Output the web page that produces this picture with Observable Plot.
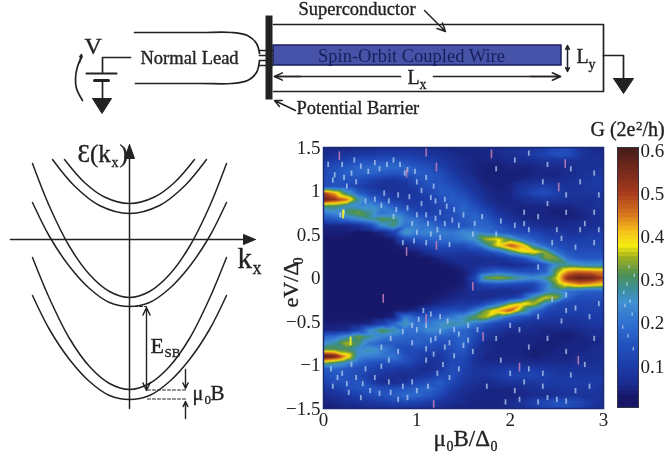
<!DOCTYPE html>
<html><head><meta charset="utf-8">
<script src="https://cdn.jsdelivr.net/npm/d3@7"></script>
<script src="https://cdn.jsdelivr.net/npm/@observablehq/plot@0.6"></script>
<style>
html,body{margin:0;padding:0;background:#fff}
#c{position:relative;width:670px;height:459px;overflow:hidden;filter:blur(0.55px)}
#c>svg{position:absolute;background:transparent}
</style></head><body><div id="c"></div>
<script>
// Conductance map: B axis, eV axis, G in units of 0.01 (2e^2/h)
const fieldB=[0,.125,.25,.375,.5,.625,.75,.875,1,1.125,1.25,1.375,1.5,1.625,1.75,1.875,2,2.125,2.25,2.375,2.5,2.625,2.75,2.875,3];
const biasV=[1.5,1.425,1.35,1.275,1.2,1.125,1.05,.975,.9,.825,.75,.675,.6,.525,.45,.375,.3,.225,.15,.075,0,-.075,-.15,-.225,-.3,-.375,-.45,-.525,-.6,-.675,-.75,-.825,-.9,-.975,-1.05,-1.125,-1.2,-1.275,-1.35,-1.425,-1.5];
const conductance=[
[5,5,5,6,6,7,7,7,7,6,6,5,5,5,6,6,7,7,8,10,13,13,8,6,5],
[6,7,8,9,9,10,10,10,9,8,7,6,5,5,5,6,7,8,10,12,15,14,9,7,6],
[8,10,12,14,14,15,15,14,12,11,9,7,6,5,5,5,6,6,7,8,8,8,7,7,7],
[12,14,16,18,19,19,19,18,16,14,11,8,6,5,4,4,5,5,5,6,6,6,7,7,8],
[13,15,17,18,18,16,15,16,17,16,14,10,7,5,4,4,4,4,5,5,5,6,7,8,9],
[13,15,15,14,11,9,8,10,14,16,15,12,8,6,4,4,4,5,6,6,6,7,8,9,10],
[14,15,14,11,9,7,7,8,11,15,16,14,10,7,5,4,5,8,10,11,9,8,8,9,10],
[50,42,28,17,12,10,8,8,9,12,16,16,13,9,6,5,5,9,13,14,11,8,8,8,9],
[58,52,46,28,19,14,10,9,9,10,14,17,16,11,7,5,5,6,8,9,8,7,7,7,8],
[30,30,26,24,25,22,17,12,10,10,12,15,18,14,9,6,5,5,5,5,5,5,6,7,8],
[22,24,30,33,28,20,22,18,13,11,12,14,18,17,13,8,6,5,5,5,4,4,5,6,7],
[14,16,20,24,28,32,30,22,20,15,13,13,16,18,16,11,8,6,5,5,5,5,5,6,7],
[5,5,5,7,12,24,30,20,22,20,17,15,15,18,18,15,11,9,7,6,6,6,7,7,8],
[4,4,4,3,3,5,11,27,22,24,22,21,24,24,20,17,15,13,12,10,9,8,8,9,10],
[3,3,3,3,3,3,4,14,16,18,19,20,22,26,36,38,30,20,16,13,11,10,10,11,11],
[3,3,3,3,3,3,3,5,9,13,15,14,14,18,28,39,48,42,26,18,14,12,12,12,12],
[3,3,3,3,3,3,3,3,4,7,10,10,9,10,13,18,28,37,40,34,20,15,14,14,14],
[3,3,3,3,3,3,3,3,3,3,5,7,7,6,7,8,10,14,22,33,33,19,16,16,16],
[3,3,3,3,3,3,3,3,3,3,3,4,6,6,7,7,6,7,9,15,26,28,26,25,25],
[3,3,3,3,3,3,3,3,3,3,3,3,4,8,15,18,16,14,14,17,33,44,46,45,44],
[3,3,3,3,3,3,3,3,3,3,3,3,4,13,33,35,32,28,25,28,37,54,58,56,50],
[3,3,3,3,3,3,3,3,3,3,3,3,4,9,13,14,13,12,12,20,33,40,44,42,40],
[3,3,3,3,3,3,3,3,3,3,3,4,5,7,6,6,6,7,12,22,26,20,18,17,17],
[3,3,3,3,3,3,3,3,3,3,4,5,6,6,6,8,9,14,28,37,34,18,14,14,14],
[3,3,3,3,3,3,3,3,3,4,6,8,9,10,15,22,34,40,36,24,14,12,12,12,12],
[3,3,3,3,3,3,3,4,6,10,13,14,14,22,34,42,48,32,20,13,11,11,11,11,11],
[3,3,3,3,3,3,5,22,17,17,18,22,26,32,36,26,18,14,11,10,9,9,9,10,10],
[4,4,4,4,5,10,18,28,20,21,25,28,26,21,16,12,10,8,7,7,7,7,8,9,9],
[5,5,6,12,24,32,28,20,20,24,24,20,18,15,10,8,6,6,6,5,5,5,6,7,7],
[18,20,26,33,28,23,20,18,18,18,17,16,18,13,8,6,5,5,5,5,4,4,5,6,6],
[24,28,36,30,20,17,16,16,18,16,14,15,18,11,6,5,5,5,5,4,4,5,5,5,6],
[32,32,30,24,27,23,18,13,13,12,11,14,16,8,6,5,5,5,4,4,5,5,5,6,6],
[60,56,42,24,22,21,21,15,12,9,9,13,14,8,5,5,5,5,4,5,5,5,6,6,6],
[34,30,24,18,15,14,15,14,10,7,8,13,12,7,6,6,6,6,6,6,6,6,7,7,7],
[16,17,15,14,12,10,9,8,7,6,9,14,11,8,8,9,10,10,10,9,8,8,8,8,8],
[14,16,15,13,9,8,7,6,7,9,13,15,10,8,8,10,12,12,12,11,9,9,9,9,9],
[11,14,15,15,11,7,6,8,12,15,17,13,9,7,6,7,8,8,9,10,10,10,10,10,9],
[8,10,13,15,16,14,14,16,18,19,15,10,7,6,5,5,5,6,7,8,8,9,9,9,8],
[6,7,9,11,13,15,17,19,19,16,12,8,6,5,5,5,5,5,6,6,7,8,8,8,7],
[5,6,7,8,9,10,12,13,12,10,8,7,6,5,5,5,6,8,10,13,15,14,12,9,7],
[4,4,5,5,6,6,7,7,7,6,6,5,5,5,5,5,6,7,9,12,14,14,11,8,6]];
// noise specks seen on the map
const whiteSpecks=[[.22,1.15],[.3,1.2],[.35,1.1],[.1,1.12],[.12,1.18],[.25,1.05],[.4,1.28],[.55,1.32],[.75,1.35],[.82,1.3],[.9,1.24],[.87,1.2],[1,1.1],[1.05,1],[1.15,.92],[1.2,.88],[1.3,.9],[1.32,.82],[1.25,.75],[1.4,.78],[1.05,.85],[.9,.8],[.78,.78],[.8,.95],[.65,.97],[.55,.9],[.45,.88],[1.1,.72],[1.2,.68],[.95,.62],[1,.52],[1.15,.5],[1.25,.46],[.85,.4],[.62,.83],[.18,.72],[.22,.75],[.3,-1],[.2,-1.1],[.35,-1.15],[.1,-1.25],[.15,-1.15],[.45,-1.05],[.55,-1.15],[.5,-1.3],[.7,-1.2],[.6,-1.33],[.85,-1.25],[.9,-1.38],[1,-1.3],[1.1,-.95],[1,-.6],[1.1,-.55],[1.15,-.42],[1.07,-.38],[1.2,-.7],[1.25,-.62],[1.3,-.8],[1.35,-.75],[1.45,-.65],[1.4,-.9],[1.28,-1],[1.22,-1.1],[.8,-.85],[.72,-.7],[.62,-.8],[.95,-.75],[1.55,-.55],[1.65,-.6],[2,-1.1],[2.15,-1.2],[2.35,-1.1],[2.5,-1.4],[2.3,-1.43],[2.4,-1.38],[2.6,-1.42],[2.7,-1.3],[2.2,-.8],[2.55,-.5],[2.7,-.35],[2.85,-.45],[2.9,-.7],[2.6,-.2],[2.3,-.45],[2,-.55],[1.85,-.7],[1.6,.5],[2.2,.55],[2.5,.55],[2.7,.35],[2.9,.4],[2.8,.62],[2.45,.4],[2.05,.6],[1.9,.65],[1.7,.7],[2.3,.7],[2.6,.75],[2.9,.75],[2.6,.95],[2.9,1.2],[2.75,1.1],[2.4,1.3],
[.05,1.3],[.2,1.3],[.33,1.35],[.48,1.22],[.6,1.25],[.68,1.3],[.98,1.22],[1.1,1.15],[1.18,1.05],[.7,.88],[.75,.7],[.92,.93],[1,.72],[1.12,.62],[1.3,.62],[1.38,.66],[1.45,.6],[1.5,.72],[1.62,.62],[1.1,.4],[1.35,.38],[.97,.42],[1.22,.55],
[.25,-1.22],[.08,-1.05],[.42,-1.22],[.27,-1.32],[.4,-1.38],[.62,-1.02],[.72,-1.32],[.8,-1.4],[.95,-1.2],[1.12,-1.25],[1.15,-.72],[1.1,-.82],[.95,-.55],[1.02,-.48],[1.25,-.45],[1.33,-.5],[1.4,-.6],[1.5,-.78],[1.55,-.72],[1.6,-.85],[1.45,-1.05],[1.35,-1.15],[1.18,-.88],[.85,-.62],[.7,-.95],
[1.9,-.95],[2.1,-.6],[2.4,-.7],[2.6,-.85],[2.8,-1],[2.95,-.3],[2.45,-.25],[1.75,-1.25],[2.1,-1.4],[2.85,-1.25],[2.2,-1.05],[2.05,-1.3],[1.95,-1.43],[2.65,-1.12],[2.35,-1.25],
[2.15,.75],[2.4,.85],[2.75,.55],[2.95,.55],[2.55,.45],[2.95,.95],[2.35,1.1],[2.65,1.25],[1.85,1.25],[2.05,1.35],[2.2,1.43],[2.3,.12],[2.6,-.38],[1.85,.5],[2.15,.62]];
const pinkSpecks=[[.17,1.4],[.89,1.2],[2.52,1.04],[.89,.3],[1.21,.37],[.64,-.24],[1.6,-.1],[1.1,-.47],[2.1,-1.03],[2.73,-.95],[1.71,-.68],[1.8,1.42],[2.59,1.31],[1.1,1.44],[1.21,1.27],[1.18,-1.46]];
const yellowSpecks=[[.29,-.73],[.21,.73]];
const barSpecks=[[.3,.27],[.6,.25],[.45,.29],[.7,.22],[.25,.19],[.8,.31],[.5,.17],[.75,.14],[.35,.24],[.55,.33]];
// colour scale
const colorStops=[0,.03,.06,.1,.15,.2,.25,.28,.31,.35,.38,.41,.45,.5,.55,.6];
const colorValues=["#17186a","#17186a","#1a2c8e","#1c3ca8","#2352bf","#3070d0","#4090d2","#3d8f9a","#4b9058","#9aad22","#f5ea10","#f6c41a","#d97a1e","#a83c1c","#7a2a1c","#4a1e18"];
const barLevels=d3.range(0,.61,.01);
const xTicks=[0,1,2,3];
const yTicks=[1.5,1,.5,0,-.5,-1,-1.5];
const yTickLabels=["1.5","1","0.5","0","\u22120.5","\u22121","\u22121.5"];
const gTicks=[.1,.2,.3,.4,.5,.6];
// band sketch: E(k)
const bandK=[-97,-80,-60,-40,-20,0,20,40,60,80,97];
const band3a=[76,33,-7,-35,-52,-58,-52,-35,-7,33,76];
const band3b=[37,3,-27,-49,-63,-67,-63,-49,-27,3,37];
const band2a=[-18,-59,-99,-127,-144,-150,-144,-127,-99,-59,-18];
const band2b=[-56,-90,-120,-142,-156,-160,-156,-142,-120,-90,-56];
const band4K=[-65,-45,-25,0,25,45,65];
const band4a=[80,57,42.5,36,42.5,57,80];
const band4outerK=[-77,-55,-30,0,30,55,77];
const band4b=[80,53.5,34,26,34,53.5,80];

const font="'Liberation Serif',serif", ink="#222";
const root=document.getElementById("c");
const place=(svg,left,top)=>{svg.style.left=left+"px";svg.style.top=top+"px";root.appendChild(svg);};
const colorOpt={type:"linear",domain:colorStops,range:colorValues,interpolate:"rgb",clamp:true};
const cells=[];
biasV.forEach((v,i)=>fieldB.forEach((b,j)=>cells.push({b,v,g:conductance[i][j]/100})));
const speck=(list,stroke,op,w,dv)=>Plot.ruleX(list,{x:d=>d[0],y1:d=>d[1]-dv,y2:d=>d[1]+dv,stroke,strokeOpacity:op,strokeWidth:w});
const heavy={stroke:ink,strokeWidth:.35};

// heat map
place(Plot.plot({
  width:610,height:329,marginLeft:323,marginRight:7,marginTop:17,marginBottom:51,
  style:{fontFamily:font,background:"transparent",color:ink},
  x:{domain:[0,3]},y:{domain:[-1.5,1.5]},color:colorOpt,
  marks:[
    Plot.raster(cells,{x:"b",y:"v",fill:"g",interpolate:"barycentric"}),
    speck(whiteSpecks,"#bcd6f2",.7,1.8,.03),
    speck(pinkSpecks,"#c880b8",.85,1.6,.05),
    speck(yellowSpecks,"#f6ea30",.95,2,.05),
    Plot.frame({stroke:"#1a2a70",strokeWidth:1.5}),
    Plot.axisX({ticks:xTicks,tickSize:0,tickPadding:4,fontSize:19,label:null,tickFormat:d=>String(d)}),
    Plot.axisY({ticks:yTicks,tickSize:0,tickPadding:3,fontSize:19,label:null,tickFormat:d=>yTickLabels[yTicks.indexOf(d)]})
  ]}),0,130);

// colour bar
place(Plot.plot({
  width:670-617,height:290,marginLeft:0,marginRight:32,marginTop:17,marginBottom:13,
  style:{fontFamily:font,background:"transparent",color:ink},
  x:{domain:[0,1],axis:null},y:{domain:[.005,.607]},color:colorOpt,
  marks:[
    Plot.rect(barLevels,{x1:0,x2:1,y1:d=>d-.006,y2:d=>d+.006,fill:d=>d,clip:true}),
    speck(barSpecks,"#bcd6f2",.7,1.4,.004),
    Plot.frame({stroke:"#334",strokeWidth:1}),
    Plot.axisY({anchor:"right",ticks:gTicks,tickSize:0,tickPadding:2,fontSize:19,label:null,tickFormat:d=>d.toFixed(1)})
  ]}),617,130);

// band diagram
const curveOpt={curve:"catmull-rom",stroke:ink,strokeWidth:1.5};
const bandLine=(ks,es)=>Plot.line(ks.map((k,i)=>[k,es[i]]),curveOpt);
const bandArrow=(x1,y1,x2,y2,len=9)=>Plot.arrow([0],{x1:()=>x1,y1:()=>y1,x2:()=>x2,y2:()=>y2,bend:0,stroke:ink,strokeWidth:1.4,headLength:len,headAngle:50});
const bandHeads=[[[0,95],[-5,81],[5,81]],[[126,0],[114,5],[114,-5]]];
const bandLabels=[
 {t:"\u0190(k",k:-52,e:78,s:25},{t:"x",k:-18,e:73,s:14},{t:")",k:-10,e:78,s:25},
 {t:"k",k:108,e:-28,s:29},{t:"x",k:123,e:-34,s:18},
 {t:"E",k:21,e:-113,s:22},{t:"SB",k:35,e:-117,s:13},
 {t:"\u03bc",k:63,e:-160,s:20},{t:"0",k:75,e:-164,s:13},{t:"B",k:81,e:-160,s:21}];
place(Plot.plot({
  width:270,height:329,margin:0,
  style:{fontFamily:font,background:"transparent",color:ink},
  x:{domain:[-129,141],axis:null},y:{domain:[-220,109],axis:null},
  marks:[
    bandLine(bandK,band3a),bandLine(bandK,band3b),bandLine(bandK,band2a),bandLine(bandK,band2b),
    bandLine(band4K,band4a),bandLine(band4outerK,band4b),
    Plot.line([[0,-169],[0,90]],{stroke:ink,strokeWidth:1.5}),
    Plot.line([[-119,0],[120,0]],{stroke:ink,strokeWidth:1.5}),
    ...bandHeads.map(t=>Plot.line([...t,t[0]],{fill:ink,stroke:ink,strokeWidth:1})),
    bandArrow(17,-110,17,-68),bandArrow(17,-110,17,-151),
    bandArrow(56,-130,56,-149,8),bandArrow(56,-179,56,-162,8),
    Plot.line([[5,-67],[17,-67]],{stroke:ink,strokeWidth:1,strokeDasharray:"3 2"}),
    Plot.line([[18,-150.5],[56,-150.5]],{stroke:ink,strokeWidth:1,strokeDasharray:"3 2"}),
    Plot.line([[18,-159.5],[56,-159.5]],{stroke:ink,strokeWidth:1,strokeDasharray:"3 2"}),
    Plot.text(bandLabels,{x:"k",y:"e",text:"t",fontSize:"s",textAnchor:"start",lineAnchor:"bottom",fill:ink,...heavy})
  ]}),0,130);

// device sketch and remaining labels (page-unit sketch space)
const wires=[
 [[273,24],[603,24],[603,91],[273,91]],
 [[130,57],[102,57],[102,72]],[[102,80],[102,98]],
 [[603,55],[623,55],[623,78]],
 [[259,50],[272,50]],[[259,55],[272,55]],[[259,60],[272,60]],[[259,65],[272,65]],
 [[274,76],[400,76]],[[433,76],[560,76]]];
const leadTop=[[134,32],[200,32],[231,32],[247,35],[256,43],[259,53]];
const leadBottom=[[135,83],[200,83],[231,83],[247,80],[256,72],[259,60]];
const curvedArrow=[[82,100],[76,88],[75,78],[77,66],[81,57]];
const triangles=[[[92,98],[111,98],[101.5,113]],[[613,78],[633,78],[623,93]]];
const sketchArrows=[[424,10,445,31],[295,110,274,100],[567,58,567,45],[567,58,567,71],[300,76,274,76],[530,76,560,76],[79,62,81,54]];
const deviceLabels=[
 {t:"Superconductor",x:298,y:14,s:18.5},{t:"Normal Lead",x:140,y:63,s:18.5},
 {t:"Potential Barrier",x:296,y:113,s:18.5},{t:"V",x:84,y:53,s:24},
 {t:"L",x:576,y:62,s:20},{t:"y",x:588,y:68,s:14},{t:"L",x:407,y:83,s:20},{t:"x",x:419,y:88,s:14},
 {t:"G (2e",x:590,y:135,s:20},{t:"2",x:635.5,y:129,s:13},{t:"/h)",x:642,y:135,s:20},
 {t:"\u03bc",x:433,y:445,s:23},{t:"0",x:446,y:450,s:14},{t:"B/\u0394",x:453,y:445,s:23},{t:"0",x:490,y:450,s:14}];
const ylabel=[{t:"eV/\u0394",x:297,y:307,s:22},{t:"0",x:302,y:264,s:14}];
const L=(pts,o={})=>Plot.line(pts,{stroke:ink,strokeWidth:1.7,...o});
const overlay=Plot.plot({
  width:670,height:459,margin:0,
  style:{fontFamily:font,background:"transparent",color:ink},
  x:{domain:[0,670],axis:null},y:{domain:[459,0],axis:null},
  marks:[
    Plot.rect([0],{x1:()=>273,x2:()=>561,y1:()=>45,y2:()=>65,fill:"#4653a8",stroke:"#1b1f5a",strokeWidth:1.5}),
    ...wires.map(p=>L(p)),
    L(leadTop,{curve:"catmull-rom"}),L(leadBottom,{curve:"catmull-rom"}),
    L(curvedArrow,{curve:"catmull-rom"}),
    L([[268.5,15],[268.5,99]],{strokeWidth:7,strokeLinecap:"butt"}),
    L([[86,73],[116,73]],{strokeWidth:2}),L([[94,80],[108,80]],{strokeWidth:3}),
    ...triangles.map(t=>Plot.line([...t,t[0]],{fill:ink,stroke:ink,strokeWidth:1})),
    ...sketchArrows.map(a=>Plot.arrow([a],{x1:d=>d[0],y1:d=>d[1],x2:d=>d[2],y2:d=>d[3],bend:0,stroke:ink,strokeWidth:1.5,headLength:9,headAngle:50})),
    Plot.text(["Spin-Orbit Coupled Wire"],{x:()=>411,y:()=>61,text:d=>d,fontSize:18.5,fill:"#1a1f5a",lineAnchor:"bottom"}),
    Plot.text(deviceLabels,{x:"x",y:"y",text:"t",fontSize:"s",textAnchor:"start",lineAnchor:"bottom",fill:ink,...heavy}),
    Plot.text(ylabel,{x:"x",y:"y",text:"t",fontSize:"s",textAnchor:"start",lineAnchor:"bottom",rotate:-90,fill:ink,...heavy})
  ]});
place(overlay,0,0);
</script></body></html>
